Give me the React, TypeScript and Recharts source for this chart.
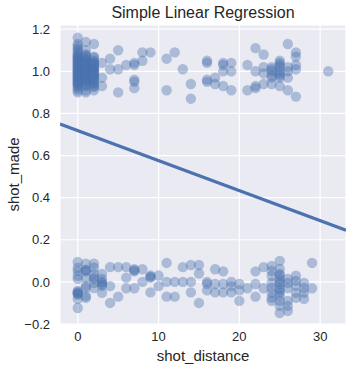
import {
    ScatterChart,
    Scatter,
    XAxis,
    YAxis,
    CartesianGrid,
} from "recharts";

document.body.style.margin = "0";

// made shots: [shot_distance, jittered shot_made]
const madeShots: [number, number][] = [
    [0, 1.16], [0, 1.13], [0, 1.12], [0, 1.11], [0, 1.1], [0, 1.09], [0, 1.08], [0, 1.07],
    [0, 1.06], [0, 1.05], [0, 1.04], [0, 1.03], [0, 1.02], [0, 1.01], [0, 1.0], [0, 0.99],
    [0, 0.98], [0, 0.97], [0, 0.96], [0, 0.95], [0, 0.94], [0, 0.93], [0, 0.92], [0, 0.91], [0, 0.9],
    [0, 1.075], [0, 1.055], [0, 1.035], [0, 1.015], [0, 0.995], [0, 0.975], [0, 0.955], [0, 0.935],
    [0, 1.065], [0, 1.045], [0, 1.025], [0, 1.005], [0, 0.985], [0, 0.965], [0, 0.945],
    [1, 1.14], [1, 1.1], [1, 1.08], [1, 1.07], [1, 1.06], [1, 1.05], [1, 1.04], [1, 1.03],
    [1, 1.02], [1, 1.01], [1, 1.0], [1, 0.99], [1, 0.98], [1, 0.97], [1, 0.96], [1, 0.95],
    [1, 0.94], [1, 0.93], [1, 0.91], [1, 0.9],
    [1, 1.075], [1, 1.055], [1, 1.035], [1, 1.015], [1, 0.995], [1, 0.975], [1, 0.955], [1, 0.935],
    [1, 1.045], [1, 1.025], [1, 1.005], [1, 0.985], [1, 0.965],
    [2, 1.13], [2, 1.07], [2, 1.05], [2, 1.04], [2, 1.03], [2, 1.02], [2, 1.01], [2, 1.0],
    [2, 0.99], [2, 0.98], [2, 0.97], [2, 0.96], [2, 0.95], [2, 0.94], [2, 0.93], [2, 0.91],
    [2, 1.065], [2, 1.045], [2, 1.025], [2, 1.005], [2, 0.985], [2, 0.965], [2, 0.945], [2, 0.925],
    [2, 1.035], [2, 1.015], [2, 0.995], [2, 0.975],
    [3, 1.04], [3, 0.97], [3, 0.93],
    [4, 1.06], [4, 1.01],
    [5, 1.1], [5, 1.01], [5, 0.9],
    [6, 1.03],
    [7, 1.04], [7, 1.03], [7, 0.96], [7, 0.95], [7, 0.92],
    [8, 1.09], [8, 1.05],
    [9, 1.09],
    [11, 1.06], [11, 0.91],
    [12, 1.09],
    [13, 1.01],
    [14, 0.94], [14, 0.87],
    [16, 1.05], [16, 1.04], [16, 0.96], [16, 0.95],
    [17, 0.97], [17, 0.94],
    [18, 1.04], [18, 1.03], [18, 1.0], [18, 0.93],
    [19, 1.04], [19, 1.0], [19, 0.91],
    [21, 1.03], [21, 0.91],
    [22, 1.11], [22, 1.0], [22, 0.93], [22, 0.92],
    [23, 1.08], [23, 1.02], [23, 0.99], [23, 0.94],
    [24, 1.02], [24, 1.0], [24, 0.98], [24, 0.97], [24, 0.94], [24, 1.01],
    [25, 1.05], [25, 1.04], [25, 1.02], [25, 1.0], [25, 0.98], [25, 0.97], [25, 0.93], [25, 1.03], [25, 0.99],
    [26, 1.13], [26, 1.02], [26, 1.0], [26, 0.97], [26, 0.91],
    [27, 1.09], [27, 1.07], [27, 1.03], [27, 1.01], [27, 0.88],
    [31, 1.0],
];

// missed shots: [shot_distance, jittered shot_made]
const missedShots: [number, number][] = [
    [0, 0.095], [0, 0.067], [0, 0.052], [0, 0.029], [0, 0.014], [0, -0.043], [0, -0.052],
    [0, -0.057], [0, -0.081], [0, -0.124], [0, -0.048], [0, -0.06],
    [1, 0.086], [1, 0.055], [1, 0.05], [1, 0.058], [1, 0.019], [1, -0.019], [1, -0.029], [1, -0.067], [1, -0.076],
    [2, 0.086], [2, 0.067], [2, 0.038], [2, 0.014], [2, -0.005], [2, -0.029], [2, 0.02],
    [3, 0.038], [3, 0.014], [3, -0.005], [3, -0.019], [3, -0.052], [3, 0.0], [3, -0.012],
    [4, 0.07], [4, -0.02], [4, -0.1],
    [5, 0.07], [5, -0.07],
    [6, 0.07], [6, 0.02], [6, -0.03],
    [7, 0.06], [7, 0.05], [7, 0.055], [7, -0.03],
    [8, 0.06], [8, 0.0],
    [9, 0.03], [9, 0.025], [9, 0.02], [9, -0.05],
    [10, 0.03], [10, -0.02],
    [11, 0.09], [11, 0.0], [11, -0.07],
    [12, 0.0], [12, -0.07],
    [13, 0.07], [13, 0.0],
    [14, 0.08], [14, 0.0], [14, -0.05],
    [15, 0.08], [15, 0.04], [15, -0.1],
    [16, 0.0], [16, -0.01], [16, -0.04],
    [17, 0.06], [17, -0.01], [17, -0.05],
    [18, 0.05], [18, -0.01], [18, -0.05],
    [19, 0.0], [19, -0.02], [19, -0.05],
    [20, -0.01], [20, -0.04], [20, -0.09],
    [21, -0.03],
    [22, 0.05], [22, -0.01], [22, -0.07],
    [23, 0.07], [23, -0.03],
    [24, 0.076], [24, 0.052], [24, 0.029], [24, -0.005], [24, -0.029], [24, -0.052], [24, -0.076], [24, -0.09],
    [25, 0.1], [25, 0.062], [25, 0.038], [25, 0.014], [25, -0.01], [25, -0.029], [25, -0.052],
    [25, -0.067], [25, -0.09], [25, -0.114], [25, -0.148], [25, 0.03], [25, 0.0], [25, -0.04],
    [26, 0.014], [26, -0.005], [26, -0.029], [26, -0.09], [26, -0.114], [26, -0.138],
    [27, 0.029], [27, 0.005], [27, -0.019], [27, -0.052], [27, -0.076],
    [28, -0.005], [28, -0.029], [28, -0.052], [28, -0.081],
    [29, 0.09], [29, -0.03],
];

// fitted regression line end points
const fitX = [-2.2, 33.2];
const fitY = [0.75, 0.245];

const xTicks = [0, 10, 20, 30];
const yTicks = [-0.2, 0, 0.2, 0.4, 0.6, 0.8, 1.0, 1.2];

const BLUE = "#4C72B0";
const FONT = "'Liberation Sans', Arial, sans-serif";

const pointData = [...madeShots, ...missedShots].map(([x, y]) => ({ x, y }));
const fitData = fitX.map((x, i) => ({ x, y: fitY[i] }));

const Dot = (props: any) => (
    <circle cx={props.cx} cy={props.cy} r={5.2} fill={BLUE} fillOpacity={0.4} />
);

const fmtY = (v: number) => v.toFixed(1).replace("-", "\u2212");

const App = () => {
    return (
        <div style={{ position: "relative", width: 352, height: 370, background: "#fff", fontFamily: FONT }}>
            <div
                style={{
                    position: "absolute",
                    top: 4,
                    left: 60,
                    width: 286,
                    textAlign: "center",
                    fontSize: 16,
                    color: "#262626",
                }}
            >
                Simple Linear Regression
            </div>
            <ScatterChart
                width={352}
                height={370}
                margin={{ top: 25, right: 6, bottom: 0, left: 0 }}
            >
                <CartesianGrid fill="#EAEAF2" stroke="#ffffff" strokeWidth={1.2} />
                <XAxis
                    type="number"
                    dataKey="x"
                    domain={[-2.2, 33.2]}
                    ticks={xTicks}
                    allowDataOverflow
                    axisLine={false}
                    tickLine={false}
                    tickSize={0}
                    tickMargin={8}
                    height={46}
                    tick={{ fill: "#262626", fontSize: 13, fontFamily: FONT }}
                    label={{
                        value: "shot_distance",
                        position: "insideBottom",
                        offset: 9,
                        fill: "#262626",
                        fontSize: 15,
                        fontFamily: FONT,
                    }}
                />
                <YAxis
                    type="number"
                    dataKey="y"
                    domain={[-0.2, 1.22]}
                    ticks={yTicks}
                    allowDataOverflow
                    axisLine={false}
                    tickLine={false}
                    tickSize={0}
                    tickMargin={10}
                    width={60}
                    tickFormatter={fmtY}
                    tick={{ fill: "#262626", fontSize: 13, fontFamily: FONT }}
                    label={{
                        value: "shot_made",
                        angle: -90,
                        position: "insideLeft",
                        offset: 14,
                        fill: "#262626",
                        fontSize: 15,
                        fontFamily: FONT,
                        style: { textAnchor: "middle" },
                    }}
                />
                <Scatter data={pointData} shape={Dot} isAnimationActive={false} />
                <Scatter
                    data={fitData}
                    line={{ stroke: BLUE, strokeWidth: 3.2 }}
                    shape={() => null}
                    isAnimationActive={false}
                />
            </ScatterChart>
        </div>
    );
};

export default App;
